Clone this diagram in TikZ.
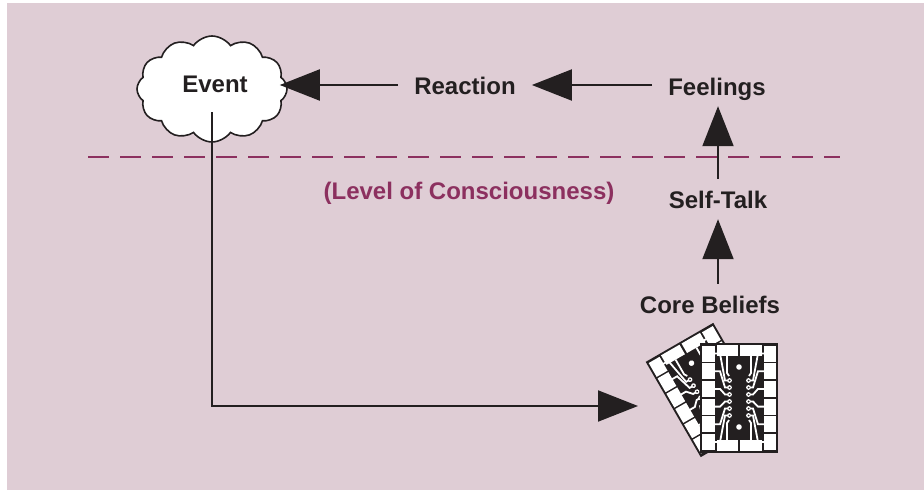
\documentclass[tikz,border=0pt]{standalone}
\usepackage{fontspec}
\setmainfont{Liberation Sans}
\usetikzlibrary{arrows.meta,shapes.symbols}
\definecolor{bgpink}{RGB}{223,205,213}
\definecolor{ink}{RGB}{35,31,32}
\definecolor{plum}{RGB}{140,48,95}

\begin{document}
\begin{tikzpicture}[
  x = 1pt, y = -1pt,
  txt/.style = {
    inner xsep=16pt,
    inner ysep=11pt,
    text height=18pt,
    text depth=0pt,
    anchor=base,
    text=ink,
    font=\fontsize{24}{28}\selectfont\bfseries
  },
  cloudy/.style = {
    cloud,
    cloud puffs=12,
    cloud puff arc=110,
    cloud ignores aspect,
    draw=ink,
    fill=white,
    line width=1.6pt,
    minimum width=150pt,
    minimum height=106pt,
    inner sep=0pt
  },
  arr/.style = {ink, line width=2pt, -{Triangle[length=40pt,width=31pt]}},
  level/.style = {plum, line width=2.8pt, dash pattern=on 21pt off 11pt},
  trace/.style = {white, line width=1.8pt},
  pics/chipcard/.style = {code = {
    \fill[ink] (-39,-55) rectangle (39,55);
    \foreach \i in {0,...,5} {
      \fill[white] (-37,{-52.5+\i*17.7}) rectangle ++(12.5,16);
      \fill[white] (24.5,{-52.5+\i*17.7}) rectangle ++(12.5,16);
    }
    \foreach \s in {-1,1} {
      \fill[white] ({\s*1.2},-53) rectangle ({\s*22.5},-42);
      \fill[white] ({\s*1.2},42) rectangle ({\s*22.5},53);
      \draw[trace] ({\s*12},-42) -- ({\s*12},-25) -- ({\s*10},-22);
      \draw[trace] ({\s*12},42) -- ({\s*12},25) -- ({\s*10},22);
      \foreach \i in {0,...,5} {
        \draw[trace] ({\s*25},{-44.5+\i*17.7}) -- ({\s*19},{-44.5+\i*17.7})
          -- ({\s*14},{-17.5+\i*7}) -- ({\s*9.5},{-17.5+\i*7});
        \fill[white] ({\s*9.5},{-17.5+\i*7}) circle (2.4);
        \fill[ink] ({\s*9.5},{-17.5+\i*7}) circle (1);
      }
    }
    \fill[white] (0,-31) circle (2.8);
    \fill[white] (0,29) circle (2.8);
  }},
  ]
  \path[use as bounding box, fill=white] (0,0) rectangle (924,490);
  \fill[bgpink] (7,3) rectangle (924,490);

  \node[cloudy] (event) at (212,89) {};
  \node[txt] (eventtext) at (215,92) {Event};
  \node[txt] (reaction) at (465,94) {Reaction};
  \node[txt] (feelings) at (717,95) {Feelings};
  \node[txt] (selftalk) at (718,208) {Self-Talk};
  \node[txt] (beliefs) at (710,313) {Core Beliefs};
  \node[txt, text=plum] (level) at (469,199) {(Level of Consciousness)};

  % level of consciousness
  \coordinate (levelL) at (88,157);
  \coordinate (levelR) at (840,157);
  \draw[level] (levelL) -- (levelR);

  % chips
  \pic[rotate=30] (backcard) at (707,390) {chipcard};
  \pic (frontcard) at (739,398) {chipcard};
  \coordinate (chipin) at (638,406);

  \draw[arr, shorten >=-8pt] (reaction.west) -- (reaction.west -| event.east);
  \draw[arr] (feelings.west |- reaction.east) -- (reaction.east);
  \draw[arr] (selftalk.north) -- (selftalk.north |- feelings.south);
  \draw[arr] (selftalk.south |- beliefs.north) -- (selftalk.south);
  \draw[arr, shorten <=9pt] (event.center |- eventtext.south) |- (chipin);
\end{tikzpicture}
\end{document}
